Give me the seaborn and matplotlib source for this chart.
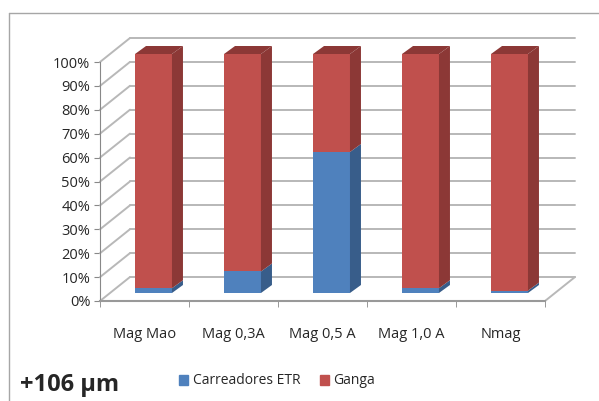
import numpy as np
import pandas as pd
import seaborn as sns
from matplotlib import pyplot as plt
from matplotlib.patches import Polygon, Rectangle
from matplotlib.lines import Line2D
from matplotlib.transforms import ScaledTranslation, IdentityTransform
from matplotlib.ticker import PercentFormatter

# values (percent)
categorias = ["Mag Mao", "Mag 0,3A", "Mag 0,5 A", "Mag 1,0 A", "Nmag"]
carreadores = [2, 9, 59, 2, 1]
ganga = [98, 91, 41, 98, 99]

azul = "#4f81bd"
vermelho = "#c0504d"
azul_esc = "#385d8a"
verm_esc = "#8c3836"
grade = "#b8b8b8"

sns.set_style("white")
plt.rcParams["font.family"] = ["Open Sans", "DejaVu Sans"]

df = pd.DataFrame({"cat": categorias, "carr": carreadores, "ganga": ganga})
df["total"] = df["carr"] + df["ganga"]

fig = plt.figure(figsize=(5.99, 4.01), dpi=100)
# front plane of the 3-D box
ax = fig.add_axes([100 / 599, (401 - 301) / 401, 445 / 599, 239 / 401])
ax.set_xlim(-0.5, 4.5)
ax.set_ylim(0, 100)


def desloca(dx, dy):
    # shift in pixels (dy positive = up)
    return ax.transData + ScaledTranslation(dx / 100, dy / 100, fig.dpi_scale_trans)


# back wall gridlines and the slanted lines on the side wall
fundo = desloca(30, 24)
frente0 = desloca(0, 0)
for v in range(0, 101, 10):
    ax.add_line(Line2D([-0.5, 4.5], [v, v], transform=fundo, color=grade,
                       linewidth=1.4, zorder=1, clip_on=False))
    x0, y0 = ax.transData.transform((-0.5, v))
    ax.add_line(Line2D([x0, x0 + 30], [y0, y0 + 24], transform=IdentityTransform(),
                       color=grade, linewidth=1.4, zorder=1, clip_on=False))
# floor right edge
x1, y1 = ax.transData.transform((4.5, 0))
ax.add_line(Line2D([x1, x1 + 30], [y1, y1 + 24], transform=IdentityTransform(),
                   color=grade, linewidth=1.4, zorder=1, clip_on=False))

largura = 0.415
sns.barplot(data=df, x="cat", y="total", color=vermelho, width=largura, ax=ax,
            saturation=1, edgecolor="none", zorder=3)
sns.barplot(data=df, x="cat", y="carr", color=azul, width=largura, ax=ax,
            saturation=1, edgecolor="none", zorder=3)
frente = desloca(9, 8)
for p in ax.patches:
    p.set_transform(frente)
    p.set_clip_on(False)

ax.set_xlim(-0.5, 4.5)
ax.set_ylim(0, 100)

# side and top faces of the columns
px = 11 / 89
py = 8 / 2.39
for i, row in df.iterrows():
    xr = i + largura / 2
    xl = i - largura / 2
    for y0, y1, cor in [(0, row["carr"], azul_esc), (row["carr"], row["total"], verm_esc)]:
        ax.add_patch(Polygon([(xr, y0), (xr + px, y0 + py), (xr + px, y1 + py), (xr, y1)],
                             closed=True, facecolor=cor, edgecolor="none", zorder=3,
                             transform=frente, clip_on=False))
    t = row["total"]
    ax.add_patch(Polygon([(xl, t), (xl + px, t + py), (xr + px, t + py), (xr, t)],
                         closed=True, facecolor=verm_esc, edgecolor="none", zorder=3,
                         transform=frente, clip_on=False))

ax.yaxis.set_major_formatter(PercentFormatter(decimals=0))
ax.set_yticks(np.arange(0, 101, 10))
ax.set_xticks(range(len(categorias)))
ax.set_xticklabels(categorias)
ax.set_xticks(np.arange(-0.5, 5, 1), minor=True)
ax.set_xlabel("")
ax.set_ylabel("")
ax.tick_params(axis="y", labelsize=10.5, length=4, color="#888888", left=True, pad=3)
ax.tick_params(axis="x", which="major", labelsize=10.5, length=0, pad=19)
ax.tick_params(axis="x", which="minor", length=4, color="#888888", bottom=True)
for s in ["top", "right"]:
    ax.spines[s].set_visible(False)
ax.spines["left"].set_color("#888888")
ax.spines["bottom"].set_color("#999999")
ax.spines["bottom"].set_linewidth(1.5)
ax.patch.set_alpha(0)

# legend
fig.legend(handles=[Rectangle((0, 0), 1, 1, color=azul, label="Carreadores ETR"),
                    Rectangle((0, 0), 1, 1, color=vermelho, label="Ganga")],
           loc="center", bbox_to_anchor=(277 / 599, 1 - 381 / 401), ncol=2, frameon=False,
           fontsize=10, handlelength=0.7, handleheight=0.7, handletextpad=0.3,
           columnspacing=1.4)

fig.text(20 / 599, 1 - 385 / 401, "+106 µm", fontsize=17, fontweight="bold", va="center")

# chart frame (only left and top visible in the crop)
fig.add_artist(Line2D([9 / 599, 9 / 599], [0, 1 - 13 / 401], transform=fig.transFigure,
                      color="#a6a6a6", linewidth=1))
fig.add_artist(Line2D([9 / 599, 1], [1 - 13 / 401, 1 - 13 / 401], transform=fig.transFigure,
                      color="#a6a6a6", linewidth=1))

fig.savefig("out.png", dpi=100)
